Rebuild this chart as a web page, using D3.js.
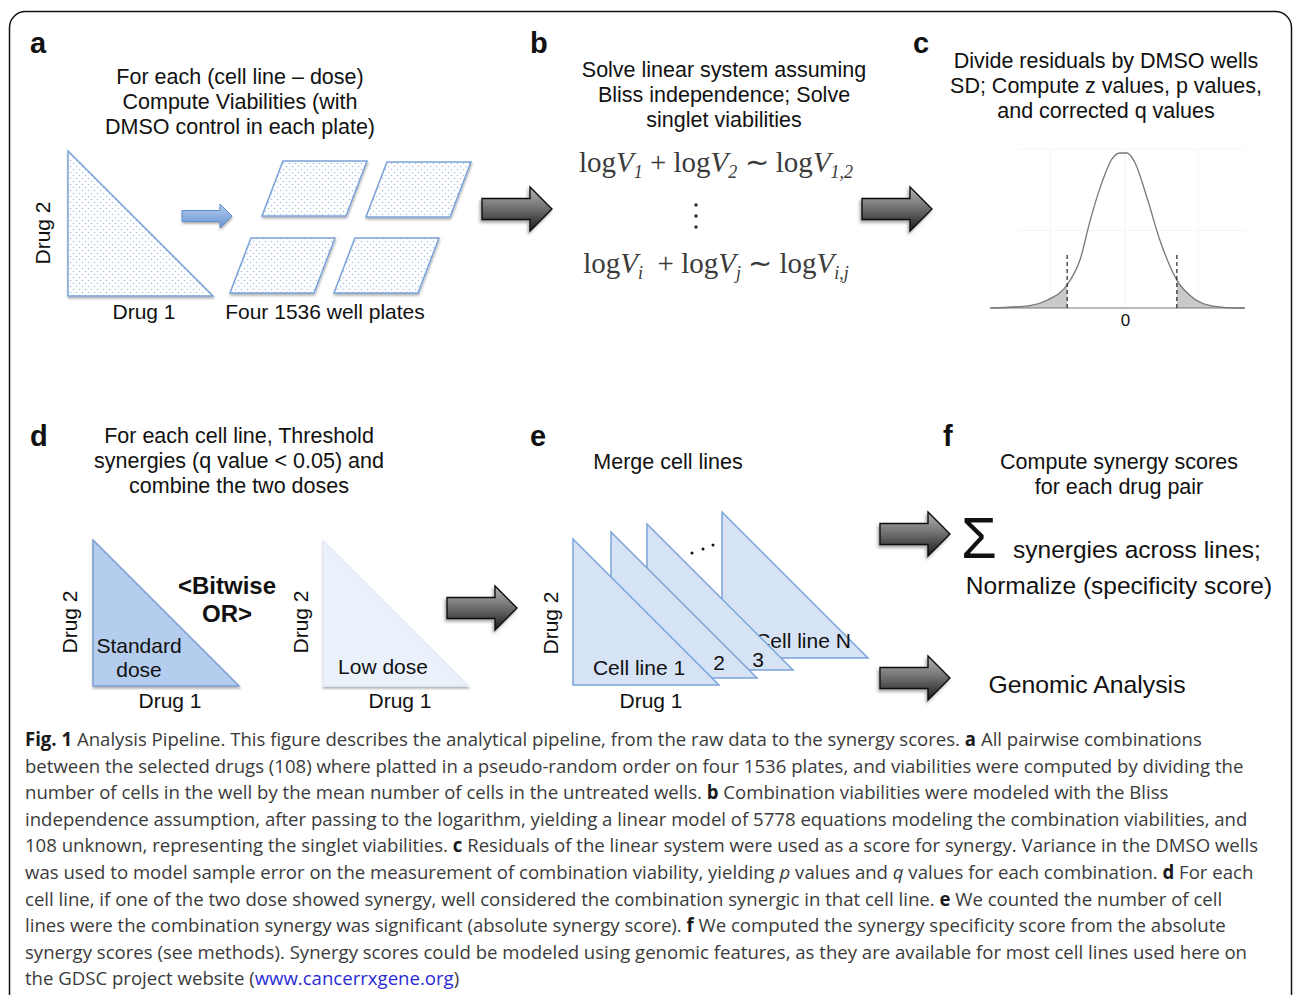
<!DOCTYPE html>
<html>
<head>
<meta charset="utf-8">
<script src="https://cdnjs.cloudflare.com/ajax/libs/d3/7.8.5/d3.min.js"></script>
<style>
  body { margin: 0; background: #fff; }
  svg { display: block; }
  text { font-family: "Liberation Sans", Arial, sans-serif; fill: #111; white-space: pre; }
  .cap { font-family: "Open Sans", sans-serif; font-size: 19px; fill: #3a3a3a; }
  .eq { font-family: "Liberation Serif", "Times New Roman", serif; fill: #3a3a3a; }
</style>
</head>
<body>
<svg width="1293" height="995"></svg>
<script>
// ---- data ----
var panelLetters = ["a", "b", "c", "d", "e", "f"];

var titleA = ["For each (cell line \u2013 dose)", "Compute Viabilities (with", "DMSO control in each plate)"];
var titleB = ["Solve linear system assuming", "Bliss independence; Solve", "singlet viabilities"];
var titleC = ["Divide residuals by DMSO wells", "SD; Compute z values, p values,", "and corrected q values"];
var titleD = ["For each cell line, Threshold", "synergies (q value < 0.05) and", "combine the two doses"];
var titleE = ["Merge cell lines"];
var titleF = ["Compute synergy scores", "for each drug pair"];

var eq1 = [["log", "n"], ["V", "i"], ["1", "s"], [" + log", "n"], ["V", "i"], ["2", "s"], [" \u223C log", "n"], ["V", "i"], ["1,2", "s"]];
var eq2 = [["log", "n"], ["V", "i"], ["i", "s"], ["  + log", "n"], ["V", "i"], ["j", "s"], [" \u223C log", "n"], ["V", "i"], ["i,j", "s"]];

// density of residual z values
var densityZ = [-4.05, -2.86, -2.35, -1.74, -1.35, -1.05, -0.75, -0.39, -0.15, 0.06, 0.30, 0.66, 1.05, 1.56, 2.05, 2.65, 3.37, 3.6];
var densityY = [0, 0.006, 0.02, 0.06, 0.125, 0.225, 0.31, 0.385, 0.4, 0.4, 0.375, 0.285, 0.175, 0.072, 0.026, 0.005, 0, 0];
var thresholds = [-1.74, 1.56];
var gridZ = [-2.25, 0, 2.2];
var gridD = [0.2, 0.41];

var cellLines = ["Cell line N", "3", "2", "Cell line 1"];

var captionLines = [
  [["Fig. 1", "b"], [" Analysis Pipeline. This figure describes the analytical pipeline, from the raw data to the synergy scores. ", ""], ["a", "b"], [" All pairwise combinations", ""]],
  [["between the selected drugs (108) where platted in a pseudo-random order on four 1536 plates, and viabilities were computed by dividing the", ""]],
  [["number of cells in the well by the mean number of cells in the untreated wells. ", ""], ["b", "b"], [" Combination viabilities were modeled with the Bliss", ""]],
  [["independence assumption, after passing to the logarithm, yielding a linear model of 5778 equations modeling the combination viabilities, and", ""]],
  [["108 unknown, representing the singlet viabilities. ", ""], ["c", "b"], [" Residuals of the linear system were used as a score for synergy. Variance in the DMSO wells", ""]],
  [["was used to model sample error on the measurement of combination viability, yielding ", ""], ["p", "i"], [" values and ", ""], ["q", "i"], [" values for each combination. ", ""], ["d", "b"], [" For each", ""]],
  [["cell line, if one of the two dose showed synergy, well considered the combination synergic in that cell line. ", ""], ["e", "b"], [" We counted the number of cell", ""]],
  [["lines were the combination synergy was significant (absolute synergy score). ", ""], ["f", "b"], [" We computed the synergy specificity score from the absolute", ""]],
  [["synergy scores (see methods). Synergy scores could be modeled using genomic features, as they are available for most cell lines used here on", ""]],
  [["the GDSC project website (", ""], ["www.cancerrxgene.org", "l"], [")", ""]]
];

// ---- setup ----
var svg = d3.select("svg");
var defs = svg.append("defs");

var pat = defs.append("pattern").attr("id", "dots")
    .attr("patternUnits", "userSpaceOnUse").attr("width", 6).attr("height", 6);
pat.append("rect").attr("width", 6).attr("height", 6).attr("fill", "#fff");
pat.append("circle").attr("cx", 1.5).attr("cy", 1.5).attr("r", 0.8).attr("fill", "#a6c0e6");
pat.append("circle").attr("cx", 4.5).attr("cy", 4.5).attr("r", 0.8).attr("fill", "#a6c0e6");

var ag = defs.append("linearGradient").attr("id", "arrowGrad")
    .attr("x1", 0).attr("y1", 0).attr("x2", 0).attr("y2", 1);
ag.append("stop").attr("offset", "0%").attr("stop-color", "#b4b4b4");
ag.append("stop").attr("offset", "45%").attr("stop-color", "#747474");
ag.append("stop").attr("offset", "100%").attr("stop-color", "#1c1c1c");

var bg = defs.append("linearGradient").attr("id", "blueGrad")
    .attr("x1", 0).attr("y1", 0).attr("x2", 0).attr("y2", 1);
bg.append("stop").attr("offset", "0%").attr("stop-color", "#b3cbee");
bg.append("stop").attr("offset", "100%").attr("stop-color", "#6b96d3");

var sh = defs.append("filter").attr("id", "shadow")
    .attr("x", "-10%").attr("y", "-10%").attr("width", "130%").attr("height", "130%");
sh.append("feDropShadow").attr("dx", 0.5).attr("dy", 2).attr("stdDeviation", 1.3)
    .attr("flood-color", "#000").attr("flood-opacity", 0.3);

var sh2 = defs.append("filter").attr("id", "shadow2")
    .attr("x", "-20%").attr("y", "-20%").attr("width", "150%").attr("height", "150%");
sh2.append("feDropShadow").attr("dx", -1.5).attr("dy", 2.5).attr("stdDeviation", 1.5)
    .attr("flood-color", "#000").attr("flood-opacity", 0.35);

// frame
svg.append("rect")
    .attr("x", 9.5).attr("y", 11.5).attr("width", 1282).attr("height", 1010)
    .attr("rx", 16).attr("fill", "none").attr("stroke", "#111").attr("stroke-width", 1.5);

function label(x, y, str, size, opts) {
  opts = opts || {};
  var t = svg.append("text")
      .attr("x", x).attr("y", y)
      .attr("font-size", size)
      .attr("text-anchor", opts.anchor || "middle")
      .attr("font-weight", opts.bold ? "bold" : null)
      .text(str);
  if (opts.rotate) {
    t.attr("x", 0).attr("y", 0)
     .attr("transform", "translate(" + x + "," + y + ") rotate(-90)");
  }
  return t;
}

function titleBlock(lines, cx, y0) {
  lines.forEach(function(l, i) { label(cx, y0 + i * 25, l, 21.5); });
}

function rightTri(x, y, s) {
  return [[x, y], [x, y + s], [x + s, y + s]];
}

var polyLine = d3.line();

function drawPoly(pts, fill, stroke, filter) {
  return svg.append("path")
      .attr("d", polyLine(pts) + "Z")
      .attr("fill", fill)
      .attr("stroke", stroke)
      .attr("stroke-width", 1.5)
      .attr("stroke-linejoin", "miter")
      .attr("filter", filter ? "url(#" + filter + ")" : null);
}

function darkArrow(x0, cy) {
  var pts = [[x0, cy - 10.5], [x0 + 48, cy - 10.5], [x0 + 48, cy - 22], [x0 + 70, cy],
             [x0 + 48, cy + 22], [x0 + 48, cy + 10.5], [x0, cy + 10.5]];
  svg.append("path")
      .attr("d", polyLine(pts) + "Z")
      .attr("fill", "url(#arrowGrad)")
      .attr("stroke", "#111")
      .attr("stroke-width", 1.4)
      .attr("filter", "url(#shadow2)");
}

// ---- panel letters ----
var letterPos = [[30, 53], [530, 53], [913, 53], [30, 446], [530, 446], [943, 446]];
panelLetters.forEach(function(l, i) {
  label(letterPos[i][0], letterPos[i][1], l, 29, { anchor: "start", bold: true });
});

// ---- panel a ----
titleBlock(titleA, 240, 84);
drawPoly(rightTri(68, 151, 145), "url(#dots)", "#7aa2d8", "shadow");
label(50, 233, "Drug 2", 21, { rotate: true });
label(144, 319, "Drug 1", 21);

// small blue arrow
svg.append("path")
    .attr("d", polyLine([[182, 210.5], [220, 210.5], [220, 204], [232, 216], [220, 228], [220, 221.5], [182, 221.5]]) + "Z")
    .attr("fill", "url(#blueGrad)").attr("stroke", "#5f8ccc").attr("stroke-width", 1)
    .attr("filter", "url(#shadow)");

// four 1536 well plates
[[262, 216], [366, 217], [230, 293], [334, 293]].forEach(function(p) {
  var x = p[0], y = p[1], w = 84, h = 55, k = 21;
  drawPoly([[x + k, y - h], [x + k + w, y - h], [x + w, y], [x, y]], "url(#dots)", "#7aa2d8", "shadow");
});
label(325, 319, "Four 1536 well plates", 21);

// ---- panel b ----
titleBlock(titleB, 724, 77);

function equation(parts, cx, y) {
  var t = svg.append("text").attr("class", "eq")
      .attr("x", cx).attr("y", y).attr("text-anchor", "middle").attr("font-size", 29);
  var shifted = false;
  parts.forEach(function(p) {
    var s = t.append("tspan").text(p[0]);
    if (p[1] === "i") s.attr("font-style", "italic");
    if (p[1] === "s") {
      s.attr("font-style", "italic").attr("font-size", 18).attr("dy", 6);
      shifted = true;
    } else if (shifted) {
      s.attr("dy", -6);
      shifted = false;
    }
  });
}
equation(eq1, 716, 172);
equation(eq2, 716, 273);
[205, 216, 227].forEach(function(y) {
  svg.append("circle").attr("cx", 696).attr("cy", y).attr("r", 1.8).attr("fill", "#333");
});

// ---- panel c ----
titleBlock(titleC, 1106, 68);

var x = d3.scaleLinear().domain([-4, 4]).range([992, 1258]);
var y = d3.scaleLinear().domain([0, 0.4]).range([308, 153]);
var dens = densityZ.map(function(z, i) { return [z, densityY[i]]; });

var gc = svg.append("g");
gc.selectAll(".vgrid").data(gridZ).enter().append("line")
    .attr("x1", d => x(d)).attr("x2", d => x(d))
    .attr("y1", y(0)).attr("y2", y(0.41))
    .attr("stroke", "#f3f3f3");
gc.selectAll(".hgrid").data(gridD).enter().append("line")
    .attr("x1", x(-3.2)).attr("x2", x(3.6))
    .attr("y1", d => y(d)).attr("y2", d => y(d))
    .attr("stroke", "#f5f5f5");

defs.append("clipPath").attr("id", "tails").selectAll("rect")
    .data([[-5, thresholds[0]], [thresholds[1], 5]]).enter().append("rect")
    .attr("x", d => x(d[0])).attr("width", d => x(d[1]) - x(d[0]))
    .attr("y", 100).attr("height", 300);

var area = d3.area().x(d => x(d[0])).y0(y(0)).y1(d => y(d[1])).curve(d3.curveMonotoneX);
var line = d3.line().x(d => x(d[0])).y(d => y(d[1])).curve(d3.curveMonotoneX);

gc.append("path").attr("d", area(dens)).attr("fill", "#c9c9c9").attr("clip-path", "url(#tails)");
gc.append("line")
    .attr("x1", x(-4.05)).attr("x2", x(3.6)).attr("y1", y(0)).attr("y2", y(0))
    .attr("stroke", "#777").attr("stroke-width", 1.2);
gc.append("path").attr("d", line(dens)).attr("fill", "none")
    .attr("stroke", "#777").attr("stroke-width", 1.3);
gc.selectAll(".thr").data(thresholds).enter().append("line")
    .attr("x1", d => x(d)).attr("x2", d => x(d))
    .attr("y1", y(0)).attr("y2", y(0.142))
    .attr("stroke", "#222").attr("stroke-width", 1.2).attr("stroke-dasharray", "4,3");

var ax = gc.append("g").attr("transform", "translate(0," + y(0) + ")")
    .call(d3.axisBottom(x).tickValues([0]).tickSize(0).tickPadding(6));
ax.select(".domain").remove();
ax.selectAll("text").attr("font-size", 17).attr("font-family", "Liberation Sans, Arial, sans-serif").attr("fill", "#111");

// ---- arrows ----
[[482, 209], [862, 209], [447, 608], [880, 534], [880, 678]].forEach(function(a) { darkArrow(a[0], a[1]); });

// ---- panel d ----
titleBlock(titleD, 239, 443);
drawPoly(rightTri(93, 540, 146), "#b4cdee", "#7a9fd4", "shadow");
drawPoly(rightTri(323, 541, 145), "#eaf1fb", "#e1e9f5", "shadow");
label(77, 622, "Drug 2", 21, { rotate: true });
label(170, 708, "Drug 1", 21);
label(308, 622, "Drug 2", 21, { rotate: true });
label(400, 708, "Drug 1", 21);
label(139, 653, "Standard", 21);
label(139, 677, "dose", 21);
label(227, 594, "<Bitwise", 24, { bold: true });
label(227, 622, "OR>", 24, { bold: true });
label(383, 674, "Low dose", 21);

// ---- panel e ----
titleBlock(titleE, 668, 469);
var eOffsets = [[149, -27], [74, -15], [38, -7], [0, 0]];
var eLabelPos = [[803, 648], [758, 667], [719, 670], [639, 675]];
eOffsets.forEach(function(o, i) {
  drawPoly(rightTri(573 + o[0], 539 + o[1], 146), "#d6e3f5", "#7ca4d8");
  label(eLabelPos[i][0], eLabelPos[i][1], cellLines[i], 21);
});
[[692, 553], [703, 549], [713, 545]].forEach(function(p) {
  svg.append("circle").attr("cx", p[0]).attr("cy", p[1]).attr("r", 1.5).attr("fill", "#111");
});
label(558, 623, "Drug 2", 21, { rotate: true });
label(651, 708, "Drug 1", 21);

// ---- panel f ----
titleBlock(titleF, 1119, 469);
label(961, 558, "\u03A3", 58, { anchor: "start" });
label(1013, 558, "synergies across lines;", 24.5, { anchor: "start" });
label(1119, 594, "Normalize (specificity score)", 24.5);
label(1087, 693, "Genomic Analysis", 24.8);

// ---- caption ----
var capG = svg.append("g");
var capTexts = [];
captionLines.forEach(function(segs, i) {
  var t = capG.append("text").attr("class", "cap")
      .attr("x", 0).attr("y", 0)
      .attr("transform", "translate(25," + (746 + i * 26.6) + ")");
  segs.forEach(function(s) {
    var ts = t.append("tspan").text(s[0]);
    if (s[1] === "b") ts.attr("font-weight", "bold").attr("fill", "#1a1a1a");
    if (s[1] === "i") ts.attr("font-style", "italic");
    if (s[1] === "l") ts.attr("fill", "#2a2ad6");
  });
  capTexts.push(t);
});
var widest = d3.max(capTexts, function(t) { return t.node().getComputedTextLength(); });
var k = 1234 / widest;
capTexts.forEach(function(t, i) {
  t.attr("transform", "translate(25," + (746 + i * 26.6) + ") scale(" + k + ",1)");
});
</script>
</body>
</html>
